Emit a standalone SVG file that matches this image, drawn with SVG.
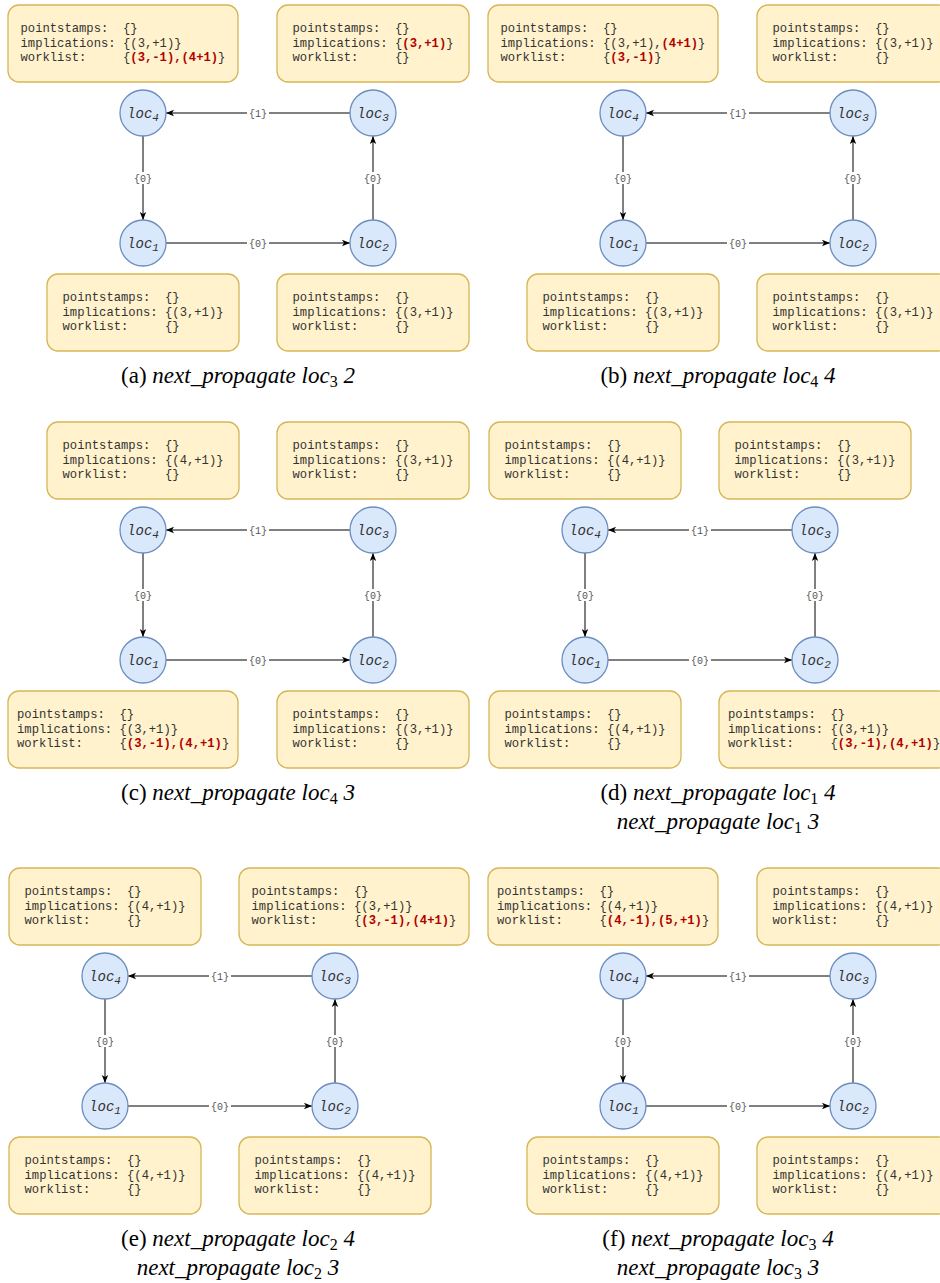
<svg xmlns="http://www.w3.org/2000/svg" width="940" height="1283" viewBox="0 0 940 1283">
<style>
.box{fill:#fff2cc;stroke:#d6b656;stroke-width:1.3}
.node{fill:#dae8fc;stroke:#6c8ebf;stroke-width:1.3}
.t{font-family:"Liberation Mono","Courier New",monospace;font-size:12.2px;fill:#333}
.r{fill:#b20000;font-weight:bold}
.nl{font-family:"Liberation Mono","Courier New",monospace;font-style:italic;font-size:14px;fill:#333;text-anchor:middle}
.sub{font-size:11px}
.edge{stroke:#000;stroke-width:1;fill:none;marker-end:url(#arr)}
.el{font-family:"Liberation Mono","Courier New",monospace;font-size:10px;fill:#555;text-anchor:middle}
.lbg{fill:#fff}
.cap{font-family:"Liberation Serif","Times New Roman",serif;font-size:23px;fill:#000;text-anchor:middle}
.it{font-style:italic}
.cs{font-size:16px}
</style>
<defs>
<marker id="arr" viewBox="0 0 8 8" markerWidth="8" markerHeight="8" refX="8" refY="4" orient="auto" markerUnits="userSpaceOnUse">
<path d="M0,0.8 L8,4 L0,7.2 L2,4 Z" fill="#000"/>
</marker>
</defs>
<rect width="940" height="1283" fill="#fff"/>

<!-- ===== Panel (a) ===== -->
<g id="panel-a">
<g id="a-edges">
<path class="edge" d="M350,113 H166"/>
<path class="edge" d="M143,136 V220"/>
<path class="edge" d="M166,243 H350"/>
<path class="edge" d="M373,220 V136"/>
<rect class="lbg" x="247" y="107" width="22" height="12"/><text class="el" x="258" y="116.5">{1}</text>
<rect class="lbg" x="132" y="172" width="22" height="12"/><text class="el" x="143" y="181.5">{0}</text>
<rect class="lbg" x="247" y="237" width="22" height="12"/><text class="el" x="258" y="246.5">{0}</text>
<rect class="lbg" x="362" y="172" width="22" height="12"/><text class="el" x="373" y="181.5">{0}</text>
</g>
<g id="a-box4"><rect class="box" x="8" y="5" width="230" height="77" rx="11"/>
<text class="t" y="32"><tspan x="20.5">pointstamps:</tspan><tspan x="123">{}</tspan></text>
<text class="t" y="46.5"><tspan x="20.5">implications:</tspan><tspan x="123">{(3,+1)}</tspan></text>
<text class="t" y="61"><tspan x="20.5">worklist:</tspan><tspan x="123">{</tspan><tspan class="r">(3,-1),(4+1)</tspan><tspan>}</tspan></text></g>
<g id="a-box3"><rect class="box" x="277" y="5" width="192" height="77" rx="11"/>
<text class="t" y="32"><tspan x="292.5">pointstamps:</tspan><tspan x="395">{}</tspan></text>
<text class="t" y="46.5"><tspan x="292.5">implications:</tspan><tspan x="395">{</tspan><tspan class="r">(3,+1)</tspan><tspan>}</tspan></text>
<text class="t" y="61"><tspan x="292.5">worklist:</tspan><tspan x="395">{}</tspan></text></g>
<g id="a-box1"><rect class="box" x="47" y="274" width="192" height="77" rx="11"/>
<text class="t" y="301"><tspan x="62.5">pointstamps:</tspan><tspan x="165">{}</tspan></text>
<text class="t" y="315.5"><tspan x="62.5">implications:</tspan><tspan x="165">{(3,+1)}</tspan></text>
<text class="t" y="330"><tspan x="62.5">worklist:</tspan><tspan x="165">{}</tspan></text></g>
<g id="a-box2"><rect class="box" x="277" y="274" width="192" height="77" rx="11"/>
<text class="t" y="301"><tspan x="292.5">pointstamps:</tspan><tspan x="395">{}</tspan></text>
<text class="t" y="315.5"><tspan x="292.5">implications:</tspan><tspan x="395">{(3,+1)}</tspan></text>
<text class="t" y="330"><tspan x="292.5">worklist:</tspan><tspan x="395">{}</tspan></text></g>
<g id="a-loc4"><circle class="node" cx="143" cy="113" r="23"/><text class="nl" x="143" y="118">loc<tspan class="sub" dy="3">4</tspan></text></g>
<g id="a-loc3"><circle class="node" cx="373" cy="113" r="23"/><text class="nl" x="373" y="118">loc<tspan class="sub" dy="3">3</tspan></text></g>
<g id="a-loc1"><circle class="node" cx="143" cy="243" r="23"/><text class="nl" x="143" y="248">loc<tspan class="sub" dy="3">1</tspan></text></g>
<g id="a-loc2"><circle class="node" cx="373" cy="243" r="23"/><text class="nl" x="373" y="248">loc<tspan class="sub" dy="3">2</tspan></text></g>
<text class="cap" x="238" y="383">(a) <tspan class="it">next_propagate loc</tspan><tspan class="cs" dy="4">3</tspan><tspan class="it" dy="-4"> 2</tspan></text>
</g>

<!-- ===== Panel (b) ===== -->
<g id="panel-b">
<g id="b-edges">
<path class="edge" d="M830,113 H646"/>
<path class="edge" d="M623,136 V220"/>
<path class="edge" d="M646,243 H830"/>
<path class="edge" d="M853,220 V136"/>
<rect class="lbg" x="727" y="107" width="22" height="12"/><text class="el" x="738" y="116.5">{1}</text>
<rect class="lbg" x="612" y="172" width="22" height="12"/><text class="el" x="623" y="181.5">{0}</text>
<rect class="lbg" x="727" y="237" width="22" height="12"/><text class="el" x="738" y="246.5">{0}</text>
<rect class="lbg" x="842" y="172" width="22" height="12"/><text class="el" x="853" y="181.5">{0}</text>
</g>
<g id="b-box4"><rect class="box" x="488" y="5" width="230" height="77" rx="11"/>
<text class="t" y="32"><tspan x="500.5">pointstamps:</tspan><tspan x="603">{}</tspan></text>
<text class="t" y="46.5"><tspan x="500.5">implications:</tspan><tspan x="603">{(3,+1),</tspan><tspan class="r">(4+1)</tspan><tspan>}</tspan></text>
<text class="t" y="61"><tspan x="500.5">worklist:</tspan><tspan x="603">{</tspan><tspan class="r">(3,-1)</tspan><tspan>}</tspan></text></g>
<g id="b-box3"><rect class="box" x="757" y="5" width="192" height="77" rx="11"/>
<text class="t" y="32"><tspan x="772.5">pointstamps:</tspan><tspan x="875">{}</tspan></text>
<text class="t" y="46.5"><tspan x="772.5">implications:</tspan><tspan x="875">{(3,+1)}</tspan></text>
<text class="t" y="61"><tspan x="772.5">worklist:</tspan><tspan x="875">{}</tspan></text></g>
<g id="b-box1"><rect class="box" x="527" y="274" width="192" height="77" rx="11"/>
<text class="t" y="301"><tspan x="542.5">pointstamps:</tspan><tspan x="645">{}</tspan></text>
<text class="t" y="315.5"><tspan x="542.5">implications:</tspan><tspan x="645">{(3,+1)}</tspan></text>
<text class="t" y="330"><tspan x="542.5">worklist:</tspan><tspan x="645">{}</tspan></text></g>
<g id="b-box2"><rect class="box" x="757" y="274" width="192" height="77" rx="11"/>
<text class="t" y="301"><tspan x="772.5">pointstamps:</tspan><tspan x="875">{}</tspan></text>
<text class="t" y="315.5"><tspan x="772.5">implications:</tspan><tspan x="875">{(3,+1)}</tspan></text>
<text class="t" y="330"><tspan x="772.5">worklist:</tspan><tspan x="875">{}</tspan></text></g>
<g id="b-loc4"><circle class="node" cx="623" cy="113" r="23"/><text class="nl" x="623" y="118">loc<tspan class="sub" dy="3">4</tspan></text></g>
<g id="b-loc3"><circle class="node" cx="853" cy="113" r="23"/><text class="nl" x="853" y="118">loc<tspan class="sub" dy="3">3</tspan></text></g>
<g id="b-loc1"><circle class="node" cx="623" cy="243" r="23"/><text class="nl" x="623" y="248">loc<tspan class="sub" dy="3">1</tspan></text></g>
<g id="b-loc2"><circle class="node" cx="853" cy="243" r="23"/><text class="nl" x="853" y="248">loc<tspan class="sub" dy="3">2</tspan></text></g>
<text class="cap" x="718" y="383">(b) <tspan class="it">next_propagate loc</tspan><tspan class="cs" dy="4">4</tspan><tspan class="it" dy="-4"> 4</tspan></text>
</g>

<!-- ===== Panel (c) ===== -->
<g id="panel-c">
<g id="c-edges">
<path class="edge" d="M350,530 H166"/>
<path class="edge" d="M143,553 V637"/>
<path class="edge" d="M166,660 H350"/>
<path class="edge" d="M373,637 V553"/>
<rect class="lbg" x="247" y="524" width="22" height="12"/><text class="el" x="258" y="533.5">{1}</text>
<rect class="lbg" x="132" y="589" width="22" height="12"/><text class="el" x="143" y="598.5">{0}</text>
<rect class="lbg" x="247" y="654" width="22" height="12"/><text class="el" x="258" y="663.5">{0}</text>
<rect class="lbg" x="362" y="589" width="22" height="12"/><text class="el" x="373" y="598.5">{0}</text>
</g>
<g id="c-box4"><rect class="box" x="47" y="422" width="192" height="77" rx="11"/>
<text class="t" y="449"><tspan x="62.5">pointstamps:</tspan><tspan x="165">{}</tspan></text>
<text class="t" y="463.5"><tspan x="62.5">implications:</tspan><tspan x="165">{(4,+1)}</tspan></text>
<text class="t" y="478"><tspan x="62.5">worklist:</tspan><tspan x="165">{}</tspan></text></g>
<g id="c-box3"><rect class="box" x="277" y="422" width="192" height="77" rx="11"/>
<text class="t" y="449"><tspan x="292.5">pointstamps:</tspan><tspan x="395">{}</tspan></text>
<text class="t" y="463.5"><tspan x="292.5">implications:</tspan><tspan x="395">{(3,+1)}</tspan></text>
<text class="t" y="478"><tspan x="292.5">worklist:</tspan><tspan x="395">{}</tspan></text></g>
<g id="c-box1"><rect class="box" x="8" y="691" width="230" height="77" rx="11"/>
<text class="t" y="718"><tspan x="17">pointstamps:</tspan><tspan x="119.5">{}</tspan></text>
<text class="t" y="732.5"><tspan x="17">implications:</tspan><tspan x="119.5">{(3,+1)}</tspan></text>
<text class="t" y="747"><tspan x="17">worklist:</tspan><tspan x="119.5">{</tspan><tspan class="r">(3,-1),(4,+1)</tspan><tspan>}</tspan></text></g>
<g id="c-box2"><rect class="box" x="277" y="691" width="192" height="77" rx="11"/>
<text class="t" y="718"><tspan x="292.5">pointstamps:</tspan><tspan x="395">{}</tspan></text>
<text class="t" y="732.5"><tspan x="292.5">implications:</tspan><tspan x="395">{(3,+1)}</tspan></text>
<text class="t" y="747"><tspan x="292.5">worklist:</tspan><tspan x="395">{}</tspan></text></g>
<g id="c-loc4"><circle class="node" cx="143" cy="530" r="23"/><text class="nl" x="143" y="535">loc<tspan class="sub" dy="3">4</tspan></text></g>
<g id="c-loc3"><circle class="node" cx="373" cy="530" r="23"/><text class="nl" x="373" y="535">loc<tspan class="sub" dy="3">3</tspan></text></g>
<g id="c-loc1"><circle class="node" cx="143" cy="660" r="23"/><text class="nl" x="143" y="665">loc<tspan class="sub" dy="3">1</tspan></text></g>
<g id="c-loc2"><circle class="node" cx="373" cy="660" r="23"/><text class="nl" x="373" y="665">loc<tspan class="sub" dy="3">2</tspan></text></g>
<text class="cap" x="238" y="800">(c) <tspan class="it">next_propagate loc</tspan><tspan class="cs" dy="4">4</tspan><tspan class="it" dy="-4"> 3</tspan></text>
</g>

<!-- ===== Panel (d) ===== -->
<g id="panel-d">
<g id="d-edges">
<path class="edge" d="M792,530 H608"/>
<path class="edge" d="M585,553 V637"/>
<path class="edge" d="M608,660 H792"/>
<path class="edge" d="M815,637 V553"/>
<rect class="lbg" x="689" y="524" width="22" height="12"/><text class="el" x="700" y="533.5">{1}</text>
<rect class="lbg" x="574" y="589" width="22" height="12"/><text class="el" x="585" y="598.5">{0}</text>
<rect class="lbg" x="689" y="654" width="22" height="12"/><text class="el" x="700" y="663.5">{0}</text>
<rect class="lbg" x="804" y="589" width="22" height="12"/><text class="el" x="815" y="598.5">{0}</text>
</g>
<g id="d-box4"><rect class="box" x="489" y="422" width="192" height="77" rx="11"/>
<text class="t" y="449"><tspan x="504.5">pointstamps:</tspan><tspan x="607">{}</tspan></text>
<text class="t" y="463.5"><tspan x="504.5">implications:</tspan><tspan x="607">{(4,+1)}</tspan></text>
<text class="t" y="478"><tspan x="504.5">worklist:</tspan><tspan x="607">{}</tspan></text></g>
<g id="d-box3"><rect class="box" x="719" y="422" width="192" height="77" rx="11"/>
<text class="t" y="449"><tspan x="734.5">pointstamps:</tspan><tspan x="837">{}</tspan></text>
<text class="t" y="463.5"><tspan x="734.5">implications:</tspan><tspan x="837">{(3,+1)}</tspan></text>
<text class="t" y="478"><tspan x="734.5">worklist:</tspan><tspan x="837">{}</tspan></text></g>
<g id="d-box1"><rect class="box" x="489" y="691" width="192" height="77" rx="11"/>
<text class="t" y="718"><tspan x="504.5">pointstamps:</tspan><tspan x="607">{}</tspan></text>
<text class="t" y="732.5"><tspan x="504.5">implications:</tspan><tspan x="607">{(4,+1)}</tspan></text>
<text class="t" y="747"><tspan x="504.5">worklist:</tspan><tspan x="607">{}</tspan></text></g>
<g id="d-box2"><rect class="box" x="719" y="691" width="230" height="77" rx="11"/>
<text class="t" y="718"><tspan x="728">pointstamps:</tspan><tspan x="830.5">{}</tspan></text>
<text class="t" y="732.5"><tspan x="728">implications:</tspan><tspan x="830.5">{(3,+1)}</tspan></text>
<text class="t" y="747"><tspan x="728">worklist:</tspan><tspan x="830.5">{</tspan><tspan class="r">(3,-1),(4,+1)</tspan><tspan>}</tspan></text></g>
<g id="d-loc4"><circle class="node" cx="585" cy="530" r="23"/><text class="nl" x="585" y="535">loc<tspan class="sub" dy="3">4</tspan></text></g>
<g id="d-loc3"><circle class="node" cx="815" cy="530" r="23"/><text class="nl" x="815" y="535">loc<tspan class="sub" dy="3">3</tspan></text></g>
<g id="d-loc1"><circle class="node" cx="585" cy="660" r="23"/><text class="nl" x="585" y="665">loc<tspan class="sub" dy="3">1</tspan></text></g>
<g id="d-loc2"><circle class="node" cx="815" cy="660" r="23"/><text class="nl" x="815" y="665">loc<tspan class="sub" dy="3">2</tspan></text></g>
<text class="cap" x="718" y="800">(d) <tspan class="it">next_propagate loc</tspan><tspan class="cs" dy="4">1</tspan><tspan class="it" dy="-4"> 4</tspan></text>
<text class="cap" x="718" y="829"><tspan class="it">next_propagate loc</tspan><tspan class="cs" dy="4">1</tspan><tspan class="it" dy="-4"> 3</tspan></text>
</g>

<!-- ===== Panel (e) ===== -->
<g id="panel-e">
<g id="e-edges">
<path class="edge" d="M312,976 H128"/>
<path class="edge" d="M105,999 V1083"/>
<path class="edge" d="M128,1106 H312"/>
<path class="edge" d="M335,1083 V999"/>
<rect class="lbg" x="209" y="970" width="22" height="12"/><text class="el" x="220" y="979.5">{1}</text>
<rect class="lbg" x="94" y="1035" width="22" height="12"/><text class="el" x="105" y="1044.5">{0}</text>
<rect class="lbg" x="209" y="1100" width="22" height="12"/><text class="el" x="220" y="1109.5">{0}</text>
<rect class="lbg" x="324" y="1035" width="22" height="12"/><text class="el" x="335" y="1044.5">{0}</text>
</g>
<g id="e-box4"><rect class="box" x="9" y="868" width="192" height="77" rx="11"/>
<text class="t" y="895"><tspan x="24.5">pointstamps:</tspan><tspan x="127">{}</tspan></text>
<text class="t" y="909.5"><tspan x="24.5">implications:</tspan><tspan x="127">{(4,+1)}</tspan></text>
<text class="t" y="924"><tspan x="24.5">worklist:</tspan><tspan x="127">{}</tspan></text></g>
<g id="e-box3"><rect class="box" x="239" y="868" width="230" height="77" rx="11"/>
<text class="t" y="895"><tspan x="251.5">pointstamps:</tspan><tspan x="354">{}</tspan></text>
<text class="t" y="909.5"><tspan x="251.5">implications:</tspan><tspan x="354">{(3,+1)}</tspan></text>
<text class="t" y="924"><tspan x="251.5">worklist:</tspan><tspan x="354">{</tspan><tspan class="r">(3,-1),(4+1)</tspan><tspan>}</tspan></text></g>
<g id="e-box1"><rect class="box" x="9" y="1137" width="192" height="77" rx="11"/>
<text class="t" y="1164"><tspan x="24.5">pointstamps:</tspan><tspan x="127">{}</tspan></text>
<text class="t" y="1178.5"><tspan x="24.5">implications:</tspan><tspan x="127">{(4,+1)}</tspan></text>
<text class="t" y="1193"><tspan x="24.5">worklist:</tspan><tspan x="127">{}</tspan></text></g>
<g id="e-box2"><rect class="box" x="239" y="1137" width="192" height="77" rx="11"/>
<text class="t" y="1164"><tspan x="254.5">pointstamps:</tspan><tspan x="357">{}</tspan></text>
<text class="t" y="1178.5"><tspan x="254.5">implications:</tspan><tspan x="357">{(4,+1)}</tspan></text>
<text class="t" y="1193"><tspan x="254.5">worklist:</tspan><tspan x="357">{}</tspan></text></g>
<g id="e-loc4"><circle class="node" cx="105" cy="976" r="23"/><text class="nl" x="105" y="981">loc<tspan class="sub" dy="3">4</tspan></text></g>
<g id="e-loc3"><circle class="node" cx="335" cy="976" r="23"/><text class="nl" x="335" y="981">loc<tspan class="sub" dy="3">3</tspan></text></g>
<g id="e-loc1"><circle class="node" cx="105" cy="1106" r="23"/><text class="nl" x="105" y="1111">loc<tspan class="sub" dy="3">1</tspan></text></g>
<g id="e-loc2"><circle class="node" cx="335" cy="1106" r="23"/><text class="nl" x="335" y="1111">loc<tspan class="sub" dy="3">2</tspan></text></g>
<text class="cap" x="238" y="1246">(e) <tspan class="it">next_propagate loc</tspan><tspan class="cs" dy="4">2</tspan><tspan class="it" dy="-4"> 4</tspan></text>
<text class="cap" x="238" y="1275"><tspan class="it">next_propagate loc</tspan><tspan class="cs" dy="4">2</tspan><tspan class="it" dy="-4"> 3</tspan></text>
</g>

<!-- ===== Panel (f) ===== -->
<g id="panel-f">
<g id="f-edges">
<path class="edge" d="M830,976 H646"/>
<path class="edge" d="M623,999 V1083"/>
<path class="edge" d="M646,1106 H830"/>
<path class="edge" d="M853,1083 V999"/>
<rect class="lbg" x="727" y="970" width="22" height="12"/><text class="el" x="738" y="979.5">{1}</text>
<rect class="lbg" x="612" y="1035" width="22" height="12"/><text class="el" x="623" y="1044.5">{0}</text>
<rect class="lbg" x="727" y="1100" width="22" height="12"/><text class="el" x="738" y="1109.5">{0}</text>
<rect class="lbg" x="842" y="1035" width="22" height="12"/><text class="el" x="853" y="1044.5">{0}</text>
</g>
<g id="f-box4"><rect class="box" x="488" y="868" width="230" height="77" rx="11"/>
<text class="t" y="895"><tspan x="497">pointstamps:</tspan><tspan x="599.5">{}</tspan></text>
<text class="t" y="909.5"><tspan x="497">implications:</tspan><tspan x="599.5">{(4,+1)}</tspan></text>
<text class="t" y="924"><tspan x="497">worklist:</tspan><tspan x="599.5">{</tspan><tspan class="r">(4,-1),(5,+1)</tspan><tspan>}</tspan></text></g>
<g id="f-box3"><rect class="box" x="757" y="868" width="192" height="77" rx="11"/>
<text class="t" y="895"><tspan x="772.5">pointstamps:</tspan><tspan x="875">{}</tspan></text>
<text class="t" y="909.5"><tspan x="772.5">implications:</tspan><tspan x="875">{(4,+1)}</tspan></text>
<text class="t" y="924"><tspan x="772.5">worklist:</tspan><tspan x="875">{}</tspan></text></g>
<g id="f-box1"><rect class="box" x="527" y="1137" width="192" height="77" rx="11"/>
<text class="t" y="1164"><tspan x="542.5">pointstamps:</tspan><tspan x="645">{}</tspan></text>
<text class="t" y="1178.5"><tspan x="542.5">implications:</tspan><tspan x="645">{(4,+1)}</tspan></text>
<text class="t" y="1193"><tspan x="542.5">worklist:</tspan><tspan x="645">{}</tspan></text></g>
<g id="f-box2"><rect class="box" x="757" y="1137" width="192" height="77" rx="11"/>
<text class="t" y="1164"><tspan x="772.5">pointstamps:</tspan><tspan x="875">{}</tspan></text>
<text class="t" y="1178.5"><tspan x="772.5">implications:</tspan><tspan x="875">{(4,+1)}</tspan></text>
<text class="t" y="1193"><tspan x="772.5">worklist:</tspan><tspan x="875">{}</tspan></text></g>
<g id="f-loc4"><circle class="node" cx="623" cy="976" r="23"/><text class="nl" x="623" y="981">loc<tspan class="sub" dy="3">4</tspan></text></g>
<g id="f-loc3"><circle class="node" cx="853" cy="976" r="23"/><text class="nl" x="853" y="981">loc<tspan class="sub" dy="3">3</tspan></text></g>
<g id="f-loc1"><circle class="node" cx="623" cy="1106" r="23"/><text class="nl" x="623" y="1111">loc<tspan class="sub" dy="3">1</tspan></text></g>
<g id="f-loc2"><circle class="node" cx="853" cy="1106" r="23"/><text class="nl" x="853" y="1111">loc<tspan class="sub" dy="3">2</tspan></text></g>
<text class="cap" x="718" y="1246">(f) <tspan class="it">next_propagate loc</tspan><tspan class="cs" dy="4">3</tspan><tspan class="it" dy="-4"> 4</tspan></text>
<text class="cap" x="718" y="1275"><tspan class="it">next_propagate loc</tspan><tspan class="cs" dy="4">3</tspan><tspan class="it" dy="-4"> 3</tspan></text>
</g>
</svg>
